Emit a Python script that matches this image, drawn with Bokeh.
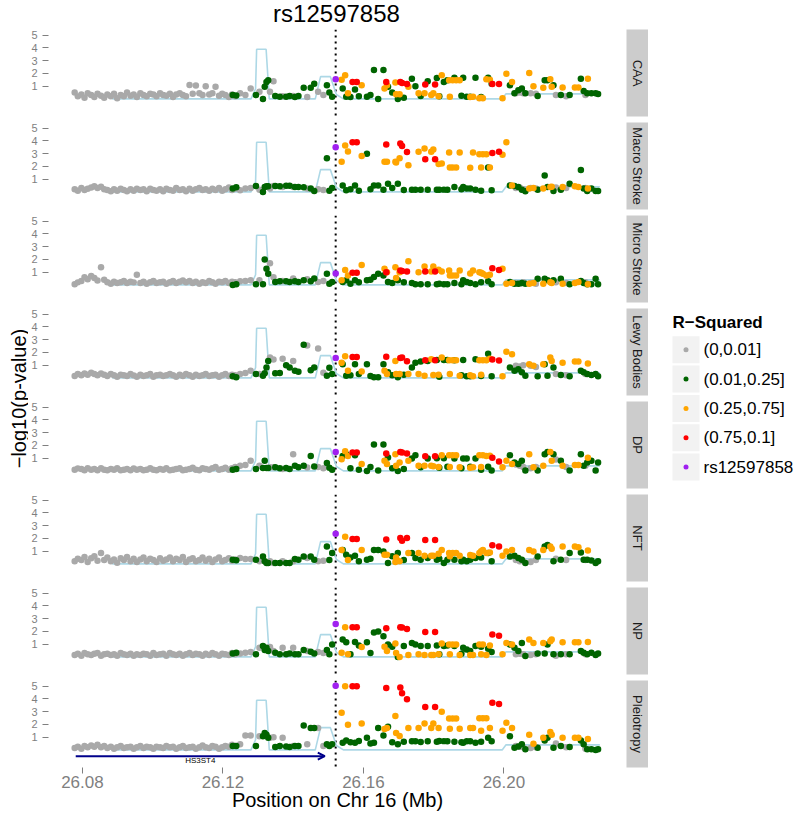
import math
from bokeh.plotting import figure
from bokeh.layouts import row, column
from bokeh.models import Range1d, FixedTicker, NumeralTickFormatter, Span, Arrow, OpenHead, Spacer
from bokeh.core.properties import value
from bokeh.embed import file_html
from bokeh.resources import INLINE

# ---------------------------------------------------------------- data
TITLE = "rs12597858"
X_LABEL = "Position on Chr 16 (Mb)"
Y_LABEL = "\u2212log10(p-value)"
TRAITS = ["CAA", "Macro Stroke", "Micro Stroke", "Lewy Bodies", "DP", "NFT", "NP", "Pleiotropy"]
LEGEND_TITLE = "R\u2212Squared"
LEGEND_LABELS = ["(0,0.01]", "(0.01,0.25]", "(0.25,0.75]", "(0.75,0.1]", "rs12597858"]
CAT_COLORS = ["#A9A9A9", "#006400", "#FFA500", "#FF0000", "#A020F0"]
X_TICKS = [26.08, 26.12, 26.16, 26.20]
Y_TICKS = [1, 2, 3, 4, 5]

GENE_NAME = "HS3ST4"
GENE_START = 26.0781
GENE_END = 26.1490

RECOMB_POS = [26.0885, 26.1280, 26.1293, 26.1296, 26.1323, 26.1332, 26.1463, 26.1478,
              26.1506, 26.1523, 26.1543, 26.1995, 26.2006, 26.2273]
RECOMB_VAL = [0.0, 0.0, 0.8, 3.9, 3.9, 0.0, 0.0, 1.75, 1.75, 0.35, 0.0, 0.0, 0.4, 0.4]

GRAY_LEFT_POS = [
    26.0778, 26.0787, 26.0797, 26.0806, 26.0815, 26.0825, 26.0834, 26.0843, 26.0853, 26.0862,
    26.0871, 26.0881, 26.0890, 26.0899, 26.0909, 26.0918, 26.0927, 26.0937, 26.0946, 26.0955,
    26.0965, 26.0974, 26.0983, 26.0993, 26.1002, 26.1011, 26.1021, 26.1030, 26.1039, 26.1049,
    26.1058, 26.1067, 26.1077, 26.1086, 26.1095, 26.1105, 26.1114, 26.1123, 26.1133, 26.1142,
    26.1151, 26.1161, 26.1170, 26.1179, 26.1189, 26.1198, 26.1207, 26.1217, 26.1226, 26.1235]
MID_POS = [
    26.1228, 26.1238, 26.1249, 26.1264, 26.1279, 26.1294, 26.1304, 26.1314, 26.1319, 26.1324,
    26.1329, 26.1334, 26.1344, 26.1349, 26.1362, 26.1370, 26.1380, 26.1390, 26.1400, 26.1405,
    26.1415, 26.1430, 26.1440, 26.1450, 26.1460, 26.1471, 26.1486, 26.1496, 26.1503, 26.1511]
MID_CAT = [1, 1, 0, 0, 0, 1, 0, 1, 1, 1,
           1, 0, 0, 1, 1, 0, 1, 1, 0, 1,
           1, 1, 0, 1, 1, 0, 0, 1, 1, 1]
LEAD_POS = [26.1521]
RED_POS = [26.1569, 26.1581, 26.1665, 26.1705, 26.1710, 26.1724, 26.1776, 26.1804, 26.1967, 26.1986]
ORANGE_POS = [
    26.1538, 26.1548, 26.1556, 26.1595, 26.1660, 26.1667, 26.1691, 26.1703, 26.1728, 26.1757,
    26.1774, 26.1793, 26.1799, 26.1823, 26.1844, 26.1854, 26.1864, 26.1874, 26.1912, 26.1930,
    26.1940, 26.1950, 26.1996, 26.2007, 26.2023, 26.2072, 26.2084, 26.2112, 26.2132, 26.2167,
    26.2202, 26.2212, 26.2239, 26.1846, 26.1935, 26.1960, 26.2136, 26.1693, 26.1814, 26.1904]
GREEN_POS = [
    26.1541, 26.1551, 26.1576, 26.1610, 26.1630, 26.1642, 26.1657, 26.1670, 26.1698, 26.1738,
    26.1748, 26.1763, 26.1783, 26.1809, 26.1829, 26.1839, 26.1859, 26.1884, 26.1894, 26.1904,
    26.1919, 26.1955, 26.1965, 26.2017, 26.2030, 26.2041, 26.2051, 26.2061, 26.2096, 26.2116,
    26.2124, 26.2141, 26.2162, 26.2187, 26.2219, 26.2227, 26.2237, 26.2249, 26.2261, 26.2268,
    26.1563, 26.1587, 26.1620, 26.1682, 26.1715, 26.1816, 26.1879, 26.1935]
GRAY_RIGHT_POS = [26.2034, 26.2045, 26.2055, 26.2076, 26.2091, 26.2148, 26.2177, 26.2232]

# -log10(p) per trait, in the SNP order: gray-left(50), mid(30), lead(1), red(10), orange(40), green(48), gray-right(8)
CAA = [
    0.5, 0.2, 0.35, 0.1, 0.45, 0.3, 0.15, 0.4, 0.25, 0.1,
    0.35, 0.2, 0.4, 0.05, 0.3, 0.2, 0.5, 0.25, 0.35, 0.15,
    0.45, 0.3, 0.2, 0.4, 0.35, 0.2, 0.45, 0.3, 0.25, 0.4,
    0.15, 0.35, 0.45, 0.3, 0.2, 1.1, 0.4, 1.05, 0.45, 0.3,
    1.0, 0.35, 0.45, 0.95, 0.25, 0.4, 0.3, 0.15, 0.35, 0.2,
    0.3, 0.26, 0.44, 0.3, 0.82, 0.3, 0.56, 0.0, 0.95, 1.33,
    1.46, 0.56, 1.38, 0.23, 0.18, 0.2, 0.18, 0.23, 0.23, 0.15,
    0.23, 0.87, 0.15, 0.87, 1.2, 0.56, 0.3, 1.08, 0.5, 0.18,
    1.54,
    1.33, 1.33, 1.33, 1.33, 1.25, 1.18, 1.13, 1.13, 1.18, 1.18,
    1.5, 1.85, 0.44, 1.08, 0.82, 1.08, 1.28, 0.36, 0.95, 0.44,
    0.44, 0.3, 0.44, 1.85, 1.46, 1.46, 1.46, 1.46, 0.18, 0.05,
    0.05, 1.54, 0.05, 1.97, 1.33, 2.03, 1.0, 0.87, 1.54, 0.9,
    0.9, 0.9, 1.59, 0.18, 0.1, 1.5, 0.95, 0.36, 0.2, 0.15,
    0.82, 0.18, 0.74, 0.18, 2.28, 0.0, 2.28, 0.95, 0.0, 1.59,
    1.0, 0.23, 1.38, 1.64, 1.33, 1.46, 1.67, 1.67, 0.18, 0.18,
    1.67, 1.67, 1.2, 1.08, 0.44, 0.69, 0.82, 0.44, 0.23, 1.46,
    1.46, 1.08, 0.3, 0.3, 1.59, 0.62, 0.44, 0.44, 0.44, 0.38,
    0.15, 0.2, 0.3, 0.5, 0.1, 0.2, 0.25, 0.15,
    0.44, 0.5, 0.44, 0.44, 0.4, 0.3, 0.2, 0.3]
MACRO = [
    0.2, 0.1, 0.3, 0.15, 0.25, 0.35, 0.45, 0.3, 0.4, 0.2,
    0.15, 0.05, 0.2, 0.1, 0.25, 0.15, 0.05, 0.2, 0.1, 0.25,
    0.15, 0.2, 0.05, 0.25, 0.15, 0.1, 0.2, 0.05, 0.25, 0.15,
    0.1, 0.3, 0.15, 0.2, 0.05, 0.25, 0.1, 0.2, 0.3, 0.15,
    0.2, 0.1, 0.25, 0.15, 0.3, 0.1, 0.2, 0.35, 0.15, 0.25,
    0.26, 0.36, 0.13, 0.26, 0.31, 0.46, 0.18, 0.0, 0.38, 0.44,
    0.44, 0.26, 0.46, 0.46, 0.44, 0.38, 0.49, 0.49, 0.38, 0.38,
    0.38, 0.36, 0.26, 0.26, 0.08, 0.2, 0.15, 2.64, 0.1, 0.3,
    3.51,
    3.9, 3.9, 3.72, 3.8, 3.6, 3.13, 2.56, 2.56, 3.05, 3.15,
    2.36, 3.64, 3.18, 2.82, 2.36, 2.36, 2.36, 2.64, 2.1, 3.15,
    3.41, 3.15, 3.33, 2.23, 3.1, 1.92, 1.92, 3.1, 3.1, 2.95,
    2.95, 2.95, 2.92, 3.9, 0.5, 0.26, 0.3, 0.26, 0.38, 0.38,
    0.44, 0.38, 0.26, 1.92, 1.92, 1.92, 0.4, 2.3, 2.2, 1.9,
    0.51, 0.13, 0.51, 3.0, 0.51, 0.51, 0.18, 0.64, 0.64, 0.18,
    0.18, 0.18, 0.18, 0.18, 0.18, 0.18, 0.38, 0.38, 0.26, 0.26,
    0.18, 1.92, 0.13, 0.51, 0.46, 0.38, 0.18, 0.05, 0.18, 1.28,
    0.38, 0.08, 0.18, 0.64, 1.72, 0.26, 0.08, 0.26, 0.08, 0.08,
    0.2, 0.1, 0.2, 0.3, 0.15, 0.18, 0.2, 0.1,
    0.3, 0.35, 0.2, 0.3, 0.26, 0.35, 0.3, 0.3]
MICRO = [
    0.05, 0.2, 0.3, 0.6, 0.45, 0.7, 0.55, 0.35, 1.38, 0.4,
    0.2, 0.1, 0.25, 0.15, 0.2, 0.3, 0.15, 0.25, 0.2, 0.8,
    0.15, 0.25, 0.1, 0.2, 0.3, 0.15, 0.2, 0.25, 0.1, 0.2,
    0.3, 0.15, 0.25, 0.35, 0.2, 0.3, 0.15, 0.25, 0.1, 0.2,
    0.15, 0.3, 0.2, 0.1, 0.25, 0.2, 0.3, 0.15, 0.25, 0.2,
    0.0, 0.05, 0.28, 0.31, 0.36, 0.05, 0.36, 0.05, 2.0, 1.26,
    0.87, 1.7, 0.6, 0.23, 0.28, 0.31, 0.28, 0.23, 0.5, 0.28,
    0.23, 0.36, 0.44, 0.28, 0.5, 0.23, 0.3, 0.87, 0.1, 0.23,
    0.9,
    0.95, 0.95, 1.0, 1.13, 1.1, 1.05, 1.05, 1.05, 1.3, 1.18,
    0.36, 1.18, 0.74, 1.56, 1.26, 1.0, 1.38, 1.0, 1.85, 1.0,
    1.44, 1.05, 1.44, 1.05, 1.13, 0.74, 0.74, 1.13, 1.13, 1.0,
    0.87, 0.74, 1.26, 0.1, 0.15, 0.1, 0.15, 0.1, 0.2, 0.1,
    0.15, 0.23, 0.05, 0.74, 0.95, 0.8, 0.15, 0.54, 1.2, 0.9,
    0.23, 0.36, 0.36, 0.36, 0.62, 0.87, 0.74, 0.23, 0.36, 0.15,
    0.05, 0.05, 0.05, 0.05, 0.05, 0.05, 0.15, 0.36, 0.23, 0.15,
    0.05, 0.28, 0.05, 0.23, 0.1, 0.1, 0.15, 0.1, 0.49, 0.49,
    0.36, 0.36, 0.49, 0.05, 0.31, 0.15, 0.05, 0.05, 0.49, 0.05,
    0.1, 0.2, 0.4, 0.15, 0.2, 0.1, 0.05, 0.2,
    0.15, 0.1, 0.2, 0.15, 0.1, 0.2, 0.15, 0.2]
LEWY = [
    0.15, 0.3, 0.2, 0.35, 0.25, 0.4, 0.3, 0.2, 0.35, 0.25,
    0.15, 0.3, 0.2, 0.1, 0.25, 0.2, 0.15, 0.3, 0.2, 0.1,
    0.25, 0.15, 0.2, 0.3, 0.1, 0.2, 0.25, 0.15, 0.2, 0.3,
    0.2, 0.1, 0.25, 0.15, 0.3, 0.2, 0.1, 0.25, 0.15, 0.2,
    0.3, 0.15, 0.2, 0.25, 0.1, 0.2, 0.3, 0.15, 0.25, 0.2,
    0.13, 0.05, 0.31, 0.38, 0.56, 0.31, 0.31, 0.18, 0.36, 0.82,
    1.33, 1.6, 1.45, 0.36, 0.38, 1.51, 1.0, 0.82, 1.33, 0.56,
    0.49, 2.6, 2.54, 0.6, 0.82, 2.3, 0.4, 0.18, 0.8, 0.31,
    1.56,
    1.64, 1.64, 1.67, 1.56, 1.6, 1.3, 1.38, 1.38, 1.44, 1.36,
    1.2, 1.7, 0.56, 0.51, 0.56, 0.3, 1.33, 0.3, 0.3, 0.3,
    0.18, 1.46, 0.23, 1.6, 1.38, 1.38, 1.38, 0.18, 0.13, 1.38,
    1.38, 1.38, 0.13, 2.05, 1.85, 1.08, 0.95, 1.08, 1.6, 1.2,
    1.28, 1.28, 1.13, 0.3, 0.25, 1.5, 1.33, 0.3, 0.25, 0.2,
    1.08, 0.18, 1.08, 1.08, 0.05, 0.05, 1.08, 0.44, 0.05, 0.82,
    1.2, 1.28, 1.33, 1.41, 1.41, 1.41, 1.38, 1.41, 0.13, 0.13,
    1.46, 1.9, 0.13, 0.82, 0.56, 0.69, 0.44, 0.18, 0.13, 1.08,
    0.18, 0.82, 0.23, 0.13, 0.56, 0.44, 0.31, 0.23, 0.31, 0.13,
    0.2, 0.3, 0.15, 0.2, 0.25, 0.1, 0.2, 0.15,
    0.95, 0.9, 1.0, 0.95, 0.85, 0.3, 0.2, 0.3]
DP = [
    0.1, 0.2, 0.15, 0.05, 0.2, 0.1, 0.15, 0.05, 0.2, 0.1,
    0.05, 0.15, 0.1, 0.2, 0.05, 0.1, 0.15, 0.05, 0.2, 0.1,
    0.15, 0.05, 0.1, 0.2, 0.1, 0.05, 0.15, 0.1, 0.2, 0.05,
    0.1, 0.15, 0.2, 0.05, 0.1, 0.15, 0.25, 0.1, 0.05, 0.2,
    0.15, 0.1, 0.2, 0.3, 0.1, 0.15, 0.25, 0.1, 0.2, 0.3,
    0.1, 0.15, 0.41, 0.46, 0.79, 0.15, 0.41, 0.23, 0.79, 0.23,
    0.23, 0.28, 0.28, 0.28, 0.2, 0.15, 0.23, 0.15, 1.3, 0.41,
    0.28, 0.41, 0.26, 1.18, 0.35, 0.3, 0.2, 0.62, 0.25, 0.1,
    1.49,
    1.44, 1.44, 1.36, 1.49, 1.45, 1.36, 1.15, 1.15, 1.03, 0.74,
    0.92, 1.54, 1.18, 0.54, 0.8, 0.54, 1.3, 0.67, 0.8, 0.41,
    0.41, 0.41, 0.36, 1.23, 1.23, 1.23, 1.23, 0.28, 0.28, 1.23,
    1.23, 1.18, 0.28, 0.8, 0.54, 1.3, 0.28, 0.41, 1.49, 0.41,
    0.46, 0.46, 1.03, 0.3, 0.3, 1.2, 0.8, 0.41, 0.3, 0.25,
    1.18, 1.3, 1.23, 0.0, 2.08, 0.03, 2.08, 1.05, 0.0, 0.97,
    1.23, 0.28, 0.97, 1.0, 1.0, 0.33, 0.97, 0.97, 0.97, 0.33,
    0.97, 0.33, 0.03, 1.23, 0.67, 0.54, 0.8, 0.03, 0.03, 1.3,
    1.49, 1.3, 0.8, 0.03, 1.3, 0.41, 0.67, 0.8, 0.03, 0.67,
    0.2, 0.1, 0.3, 0.2, 0.15, 0.25, 0.2, 0.1,
    0.5, 0.4, 0.3, 0.2, 0.3, 0.9, 0.3, 0.4]
NFT = [
    0.2, 0.4, 0.3, 0.55, 0.15, 0.45, 0.6, 0.25, 0.85, 0.3,
    0.5, 0.2, 0.35, 0.1, 0.45, 0.3, 0.55, 0.2, 0.4, 0.15,
    0.35, 0.5, 0.2, 0.4, 0.3, 0.15, 0.45, 0.25, 0.35, 0.5,
    0.2, 0.4, 0.3, 0.55, 0.15, 0.35, 0.45, 0.2, 0.3, 0.5,
    0.25, 0.4, 0.15, 0.35, 0.5, 0.2, 0.3, 0.45, 0.25, 0.35,
    0.33, 0.28, 0.46, 0.38, 0.38, 0.33, 0.2, 0.59, 0.2, 0.08,
    0.08, 0.2, 0.08, 0.08, 0.08, 0.2, 0.08, 0.08, 0.2, 0.38,
    0.33, 0.59, 0.46, 0.59, 0.33, 0.2, 0.25, 1.36, 0.3, 0.85,
    2.36,
    1.95, 1.95, 1.92, 2.03, 1.82, 2.03, 1.87, 1.87, 1.46, 1.36,
    1.1, 2.13, 0.3, 1.1, 0.72, 0.72, 0.15, 0.2, 0.85, 0.85,
    0.64, 0.64, 0.64, 1.1, 0.85, 0.85, 0.85, 0.64, 0.64, 0.85,
    1.1, 0.85, 0.64, 0.97, 1.1, 1.1, 0.97, 1.1, 1.36, 1.36,
    1.36, 1.3, 1.05, 0.6, 1.0, 0.9, 1.2, 0.5, 0.8, 0.7,
    1.1, 0.72, 0.64, 0.33, 1.1, 1.1, 0.97, 0.08, 0.85, 0.85,
    0.46, 0.33, 0.46, 0.33, 0.08, 0.33, 0.33, 0.33, 0.2, 0.33,
    0.46, 0.85, 0.2, 0.59, 0.64, 0.46, 0.33, 0.08, 0.59, 1.36,
    1.49, 0.2, 0.33, 0.85, 0.9, 0.33, 0.33, 0.26, 0.08, 0.2,
    0.5, 0.2, 0.4, 0.6, 0.3, 0.4, 0.2, 0.5,
    0.3, 0.2, 0.2, 0.15, 0.3, 0.4, 0.3, 0.3]
NP_ = [
    0.15, 0.25, 0.1, 0.3, 0.2, 0.15, 0.25, 0.3, 0.1, 0.2,
    0.25, 0.15, 0.2, 0.1, 0.3, 0.2, 0.15, 0.25, 0.1, 0.2,
    0.15, 0.25, 0.2, 0.1, 0.3, 0.15, 0.2, 0.25, 0.1, 0.3,
    0.2, 0.15, 0.25, 0.1, 0.2, 0.3, 0.15, 0.25, 0.2, 0.1,
    0.25, 0.15, 0.3, 0.2, 0.1, 0.25, 0.2, 0.15, 0.3, 0.2,
    0.26, 0.33, 0.26, 0.33, 0.38, 0.2, 0.72, 0.85, 0.54, 0.72,
    0.46, 0.77, 0.46, 0.33, 0.2, 0.72, 0.2, 0.26, 0.72, 0.2,
    0.2, 0.54, 0.46, 0.41, 0.26, 0.38, 0.3, 0.54, 0.2, 0.97,
    2.59,
    2.33, 2.33, 2.26, 2.33, 2.3, 2.2, 1.95, 1.95, 1.77, 1.67,
    0.33, 2.33, 0.2, 0.77, 0.79, 0.46, 1.05, 0.0, 0.15, 0.2,
    0.15, 0.15, 0.15, 1.05, 0.97, 0.97, 0.97, 0.15, 0.15, 0.97,
    0.97, 0.15, 0.2, 1.1, 0.97, 1.36, 1.1, 1.1, 1.23, 1.15,
    1.15, 1.15, 1.18, 0.2, 0.2, 0.9, 1.36, 0.3, 0.2, 0.15,
    1.36, 1.15, 1.18, 1.15, 1.92, 2.0, 1.62, 0.97, 0.0, 1.1,
    0.97, 0.85, 0.85, 0.9, 0.85, 0.9, 0.85, 0.72, 0.59, 0.46,
    0.85, 0.64, 0.38, 0.97, 0.72, 0.46, 1.1, 0.08, 0.26, 0.26,
    0.97, 0.2, 0.2, 0.2, 0.46, 0.33, 0.2, 0.33, 0.15, 0.26,
    0.2, 0.9, 0.3, 0.8, 0.85, 0.2, 0.25, 0.8,
    0.2, 0.25, 0.2, 0.15, 0.2, 0.1, 0.2, 0.2]
PLEIO = [
    0.15, 0.25, 0.1, 0.3, 0.2, 0.35, 0.25, 0.4, 0.2, 0.3,
    0.15, 0.25, 0.1, 0.2, 0.3, 0.15, 0.2, 0.25, 0.1, 0.2,
    0.3, 0.15, 0.25, 0.2, 0.1, 0.25, 0.2, 0.15, 0.3, 0.2,
    0.25, 0.1, 0.2, 0.3, 0.15, 0.2, 0.25, 0.1, 0.2, 0.35,
    0.2, 0.15, 0.3, 0.25, 0.1, 0.2, 0.3, 0.25, 0.4, 0.3,
    0.3, 0.3, 0.44, 1.13, 1.13, 0.3, 1.08, 1.08, 1.33, 1.2,
    0.95, 0.95, 1.0, 0.23, 0.3, 0.95, 0.26, 0.23, 0.3, 0.3,
    0.3, 1.92, 0.44, 1.72, 1.72, 1.72, 0.3, 0.44, 0.3, 0.44,
    5.03,
    5.0, 5.0, 4.87, 4.9, 4.44, 3.97, 3.36, 3.36, 3.7, 3.6,
    2.92, 5.0, 1.97, 2.08, 1.64, 1.72, 2.67, 1.1, 1.72, 1.72,
    2.08, 1.72, 2.08, 3.0, 2.46, 2.46, 2.46, 1.67, 1.72, 2.49,
    2.49, 2.49, 1.51, 2.13, 1.72, 1.2, 0.49, 0.95, 1.41, 0.95,
    0.95, 0.95, 0.85, 1.67, 1.51, 1.72, 1.2, 1.33, 1.72, 1.72,
    0.56, 0.74, 0.56, 0.95, 0.56, 1.72, 1.13, 1.82, 0.44, 0.69,
    0.69, 0.62, 0.69, 0.64, 0.69, 0.69, 0.64, 0.56, 0.69, 0.69,
    0.56, 0.95, 0.69, 1.08, 0.18, 0.26, 0.44, 0.05, 0.18, 0.74,
    0.95, 0.18, 0.31, 0.23, 0.74, 0.44, 0.05, 0.05, 0.0, 0.05,
    0.6, 0.7, 0.5, 0.6, 0.65, 0.7, 0.6, 0.65,
    0.3, 0.25, 0.2, 0.15, 0.2, 0.5, 0.2, 0.1]

SNP_POS = GRAY_LEFT_POS + MID_POS + LEAD_POS + RED_POS + ORANGE_POS + GREEN_POS + GRAY_RIGHT_POS
SNP_CAT = ([0] * len(GRAY_LEFT_POS) + MID_CAT + [4] * len(LEAD_POS) + [3] * len(RED_POS)
           + [2] * len(ORANGE_POS) + [1] * len(GREEN_POS) + [0] * len(GRAY_RIGHT_POS))
TRAIT_VALUES = [CAA, MACRO, MICRO, LEWY, DP, NFT, NP_, PLEIO]
for _name, _vals in zip(TRAITS, TRAIT_VALUES):
    assert len(_vals) == len(SNP_POS), (_name, len(_vals), len(SNP_POS))

# ---------------------------------------------------------------- layout / style
FONT = "Liberation Sans"
GRAY_TXT = "#7F7F7F"
STRIP_FILL = "#CCCCCC"
RECOMB_COLOR = "#ADD8E6"
GENE_COLOR = "#00008B"

X_START, X_END = 26.07035, 26.23489
Y_START, Y_END = -1.38, 5.45
LEFT = 18
FRAME_W = 580
PANEL_W = LEFT + FRAME_W
FRAME_H = 87
GAP = 6
BOTTOM_AXIS = 55
STRIP_W = 22
TITLE_H = 29
YLAB_W = 28
LEG_W = 152
TOTAL_H = TITLE_H + (FRAME_H + GAP) * (len(TRAITS) - 1) + FRAME_H + BOTTOM_AXIS


def clean(p):
    p.outline_line_color = None
    p.grid.visible = False
    p.background_fill_color = "white"
    p.border_fill_color = "white"


def make_panel(i, trait, vals):
    last = i == len(TRAITS) - 1
    bottom = BOTTOM_AXIS if last else GAP
    p = figure(width=PANEL_W, height=FRAME_H + bottom,
               x_range=Range1d(X_START, X_END), y_range=Range1d(Y_START, Y_END),
               output_backend="svg", toolbar_location=None,
               x_axis_location="below" if last else None, y_axis_location="left",
               min_border_left=LEFT, min_border_right=0, min_border_top=0, min_border_bottom=bottom)
    clean(p)
    span = Span(location=LEAD_POS[0], dimension="height", line_color="black",
                line_dash="2 4", line_width=2, level="underlay")
    p.add_layout(span)
    p.line(RECOMB_POS, RECOMB_VAL, line_color=RECOMB_COLOR, line_width=1.6)
    for c in range(len(CAT_COLORS)):
        xs = [x for x, k in zip(SNP_POS, SNP_CAT) if k == c]
        ys = [y for y, k in zip(vals, SNP_CAT) if k == c]
        p.scatter(xs, ys, size=6.5, fill_color=CAT_COLORS[c], line_color=None)

    yax = p.yaxis[0]
    yax.ticker = FixedTicker(ticks=Y_TICKS)
    yax.major_label_text_font = FONT
    yax.major_label_text_font_size = "11px"
    yax.major_label_text_color = GRAY_TXT
    yax.major_tick_line_color = GRAY_TXT
    yax.major_tick_out = 6
    yax.major_tick_in = 0
    yax.minor_tick_line_color = None
    yax.axis_line_color = None
    yax.major_label_standoff = 5

    if last:
        xax = p.xaxis[0]
        xax.ticker = FixedTicker(ticks=X_TICKS)
        xax.formatter = NumeralTickFormatter(format="0.00")
        xax.major_label_text_font = FONT
        xax.major_label_text_font_size = "17px"
        xax.major_label_text_color = GRAY_TXT
        xax.major_tick_line_color = GRAY_TXT
        xax.major_tick_out = 6
        xax.major_tick_in = 0
        xax.minor_tick_line_color = None
        xax.axis_line_color = None
        xax.major_label_standoff = 2
        xax.axis_label = X_LABEL
        xax.axis_label_text_font = FONT
        xax.axis_label_text_font_size = "20px"
        xax.axis_label_text_font_style = "normal"
        xax.axis_label_text_color = "black"
        xax.axis_label_standoff = -2
        arrow = Arrow(end=OpenHead(size=7, line_color=GENE_COLOR, line_width=2),
                      x_start=GENE_START, y_start=-0.49, x_end=GENE_END, y_end=-0.49,
                      line_color=GENE_COLOR, line_width=2)
        p.add_layout(arrow)
        p.text(x=[(GENE_START + GENE_END) / 2], y=[-0.85], text=[GENE_NAME],
               text_align="center", text_baseline="middle", text_font=value(FONT),
               text_font_size="8px", text_color="black")

    s = figure(width=STRIP_W, height=FRAME_H + bottom, x_range=Range1d(0, 1), y_range=Range1d(0, 1),
               output_backend="svg", toolbar_location=None, x_axis_location=None, y_axis_location=None,
               min_border_left=0, min_border_right=0, min_border_top=0, min_border_bottom=bottom)
    clean(s)
    s.background_fill_color = STRIP_FILL
    s.text(x=[0.5], y=[0.5], text=[trait], angle=-math.pi / 2, text_align="center",
           text_baseline="middle", text_font=value(FONT), text_font_size="13px", text_color="#1A1A1A")
    return row(p, s)


# title
tf = figure(width=PANEL_W, height=TITLE_H, x_range=Range1d(X_START, X_END), y_range=Range1d(0, 1),
            output_backend="svg", toolbar_location=None, x_axis_location=None, y_axis_location=None,
            min_border_left=LEFT, min_border_right=0, min_border_top=0, min_border_bottom=0)
clean(tf)
tf.text(x=[(X_START + X_END) / 2], y=[0.54], text=[TITLE], text_align="center", text_baseline="middle",
        text_font=value(FONT), text_font_size="24px", text_color="black")

# y label
yl = figure(width=YLAB_W, height=TOTAL_H, x_range=Range1d(0, YLAB_W), y_range=Range1d(0, TOTAL_H),
            output_backend="svg", toolbar_location=None, x_axis_location=None, y_axis_location=None,
            min_border_left=0, min_border_right=0, min_border_top=0, min_border_bottom=0)
clean(yl)
panels_mid = TITLE_H + ((FRAME_H + GAP) * len(TRAITS) - GAP) / 2
yl.text(x=[18], y=[TOTAL_H - panels_mid], text=[Y_LABEL], angle=math.pi / 2, text_align="center",
        text_baseline="middle", text_font=value(FONT), text_font_size="20px", text_color="black")

# legend
lg = figure(width=LEG_W, height=TOTAL_H, x_range=Range1d(0, LEG_W), y_range=Range1d(0, TOTAL_H),
            output_backend="svg", toolbar_location=None, x_axis_location=None, y_axis_location=None,
            min_border_left=0, min_border_right=0, min_border_top=0, min_border_bottom=0)
clean(lg)
n_leg = len(LEGEND_LABELS)
KEY = 27
KEY_X = 24 + KEY / 2
KEY_TOP = TOTAL_H - 349.3
KEY_STEP = 29.3
key_y = [KEY_TOP - k * KEY_STEP for k in range(n_leg)]
lg.rect(x=[KEY_X] * n_leg, y=key_y, width=KEY, height=KEY, fill_color="#F2F2F2", line_color=None)
lg.scatter(x=[KEY_X] * n_leg, y=key_y, size=5, fill_color=CAT_COLORS, line_color=None)
lg.text(x=[KEY_X + KEY / 2 + 4] * n_leg, y=key_y, text=LEGEND_LABELS, text_align="left",
        text_baseline="middle", text_font=value(FONT), text_font_size="17px", text_color="black")
lg.text(x=[24], y=[KEY_TOP + 27.5], text=[LEGEND_TITLE], text_align="left", text_baseline="middle",
        text_font=value(FONT), text_font_size="17px", text_font_style="bold", text_color="black")

rows = [row(tf, Spacer(width=STRIP_W, height=TITLE_H))]
for i, (trait, vals) in enumerate(zip(TRAITS, TRAIT_VALUES)):
    rows.append(make_panel(i, trait, vals))

layout = row(yl, column(*rows), lg)
open("out.html", "w").write(file_html(layout, INLINE))
